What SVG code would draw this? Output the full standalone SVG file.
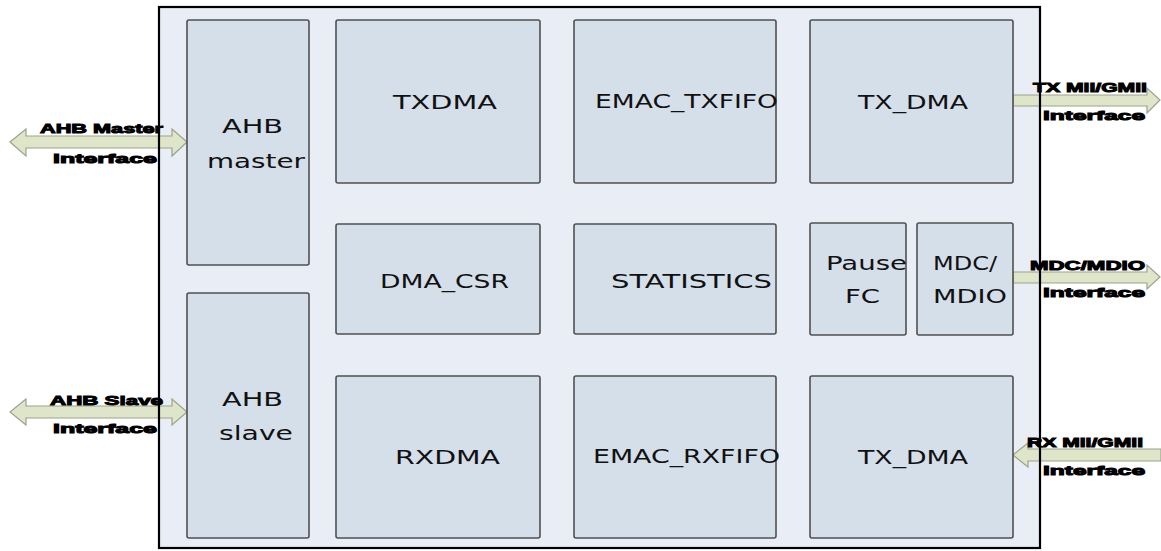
<svg xmlns="http://www.w3.org/2000/svg" width="1161" height="551" viewBox="0 0 1161 551">
<defs>
<style>
.frame{fill:#e9edf5;}
.frameLine{fill:none;stroke:#000;stroke-width:2.2;}
.box{fill:#d5dfea;stroke:#505050;stroke-width:1.6;}
.lbl{font-family:"DejaVu Sans",Verdana,sans-serif;font-size:19px;fill:#111;}
.arrow{fill:#dfe5c8;stroke:#9ca38c;stroke-width:1.2;}
.ifc{font-family:"Liberation Sans",Arial,sans-serif;font-size:13.5px;font-weight:bold;fill:#000;stroke:#000;stroke-width:1;}
</style>
</defs>
<rect width="1161" height="551" fill="#fff"/>
<rect class="frame" x="159" y="7" width="881" height="541"/>

<g id="connectors">
<polygon class="arrow" points="10,142 26,129 26,136 172,136 172,129 187,142 172,156 172,148 26,148 26,156"/>
<polygon class="arrow" points="10,412 26,399 26,406 172,406 172,399 187,412 172,425 172,418 26,418 26,425"/>
<polygon class="arrow" points="1013,95 1147,95 1147,88 1160,100 1147,113 1147,106 1013,106"/>
<polygon class="arrow" points="1013,272 1147,272 1147,265 1160,277 1147,289 1147,283 1013,283"/>
<polygon class="arrow" points="1013,455 1028,443 1028,449 1161,449 1161,461 1028,461 1028,467"/>
</g>

<rect class="frameLine" x="159" y="7" width="881" height="541"/>

<g id="ahb-master">
<rect class="box" x="187" y="20" width="122" height="245" rx="2"/>
<text class="lbl" x="222" y="133" textLength="61" lengthAdjust="spacingAndGlyphs">AHB</text>
<text class="lbl" x="207" y="168" textLength="98" lengthAdjust="spacingAndGlyphs">master</text>
</g>
<g id="ahb-slave">
<rect class="box" x="187" y="293" width="122" height="245" rx="2"/>
<text class="lbl" x="222" y="406" textLength="61" lengthAdjust="spacingAndGlyphs">AHB</text>
<text class="lbl" x="219" y="440" textLength="74" lengthAdjust="spacingAndGlyphs">slave</text>
</g>
<g id="txdma">
<rect class="box" x="336" y="20" width="204" height="163" rx="2"/>
<text class="lbl" x="393" y="109" textLength="104" lengthAdjust="spacingAndGlyphs">TXDMA</text>
</g>
<g id="dma-csr">
<rect class="box" x="336" y="224" width="204" height="110" rx="2"/>
<text class="lbl" x="380" y="288" textLength="129" lengthAdjust="spacingAndGlyphs">DMA_CSR</text>
</g>
<g id="rxdma">
<rect class="box" x="336" y="376" width="204" height="162" rx="2"/>
<text class="lbl" x="395" y="464" textLength="105" lengthAdjust="spacingAndGlyphs">RXDMA</text>
</g>
<g id="emac-txfifo">
<rect class="box" x="574" y="20" width="202" height="163" rx="2"/>
<text class="lbl" x="595" y="108" textLength="183" lengthAdjust="spacingAndGlyphs">EMAC_TXFIFO</text>
</g>
<g id="statistics">
<rect class="box" x="574" y="224" width="202" height="110" rx="2"/>
<text class="lbl" x="611" y="288" textLength="161" lengthAdjust="spacingAndGlyphs">STATISTICS</text>
</g>
<g id="emac-rxfifo">
<rect class="box" x="574" y="376" width="202" height="162" rx="2"/>
<text class="lbl" x="593" y="463" textLength="187" lengthAdjust="spacingAndGlyphs">EMAC_RXFIFO</text>
</g>
<g id="tx-dma">
<rect class="box" x="810" y="20" width="203" height="163" rx="2"/>
<text class="lbl" x="858" y="109" textLength="110" lengthAdjust="spacingAndGlyphs">TX_DMA</text>
</g>
<g id="pause-fc">
<rect class="box" x="810" y="223" width="96" height="112" rx="2"/>
<text class="lbl" x="826" y="270" textLength="81" lengthAdjust="spacingAndGlyphs">Pause</text>
<text class="lbl" x="845" y="303" textLength="35" lengthAdjust="spacingAndGlyphs">FC</text>
</g>
<g id="mdc-mdio">
<rect class="box" x="917" y="223" width="96" height="112" rx="2"/>
<text class="lbl" x="933" y="270" textLength="64" lengthAdjust="spacingAndGlyphs">MDC/</text>
<text class="lbl" x="933" y="303" textLength="74" lengthAdjust="spacingAndGlyphs">MDIO</text>
</g>
<g id="rx-dma">
<rect class="box" x="810" y="376" width="203" height="162" rx="2"/>
<text class="lbl" x="858" y="464" textLength="110" lengthAdjust="spacingAndGlyphs">TX_DMA</text>
</g>

<g id="interface-labels">
<text class="ifc" x="40" y="133" textLength="123" lengthAdjust="spacingAndGlyphs">AHB Master</text>
<text class="ifc" x="53" y="163" textLength="104" lengthAdjust="spacingAndGlyphs">Interface</text>
<text class="ifc" x="50" y="405" textLength="113" lengthAdjust="spacingAndGlyphs">AHB Slave</text>
<text class="ifc" x="53" y="433" textLength="104" lengthAdjust="spacingAndGlyphs">Interface</text>
<text class="ifc" x="1033" y="92" textLength="114" lengthAdjust="spacingAndGlyphs">TX MII/GMII</text>
<text class="ifc" x="1043" y="120" textLength="102" lengthAdjust="spacingAndGlyphs">Interface</text>
<text class="ifc" x="1030" y="270" textLength="115" lengthAdjust="spacingAndGlyphs">MDC/MDIO</text>
<text class="ifc" x="1043" y="297" textLength="102" lengthAdjust="spacingAndGlyphs">Interface</text>
<text class="ifc" x="1027" y="447" textLength="116" lengthAdjust="spacingAndGlyphs">RX MII/GMII</text>
<text class="ifc" x="1043" y="475" textLength="102" lengthAdjust="spacingAndGlyphs">Interface</text>
</g>
</svg>
